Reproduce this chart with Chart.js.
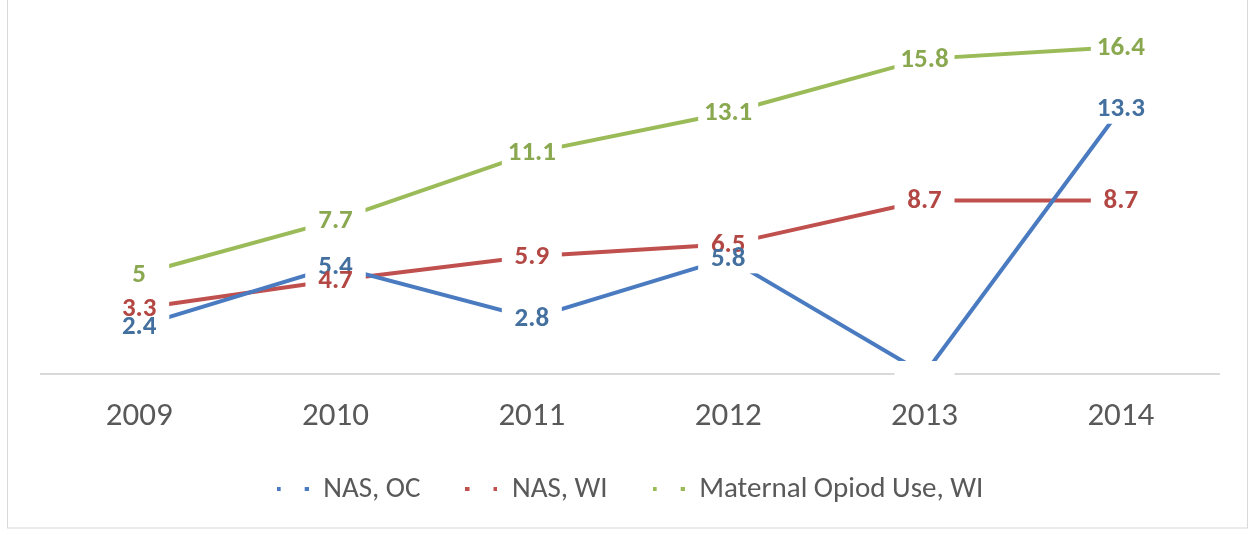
<!DOCTYPE html>
<html>
<head>
<meta charset="utf-8">
<script src="https://cdn.jsdelivr.net/npm/chart.js@4/dist/chart.umd.min.js"></script>
<style>
  body { margin: 0; background: #fff; }
  #wrap { width: 1254px; height: 539px; }
</style>
</head>
<body>
<div id="wrap"><canvas id="nasChart" width="1254" height="539"></canvas></div>
<script>
// rates per year
const years = ['2009', '2010', '2011', '2012', '2013', '2014'];
const nasOC = [2.4, 5.4, 2.8, 5.8, 0, 13.3];
const nasWI = [3.3, 4.7, 5.9, 6.5, 8.7, 8.7];
const maternalWI = [5, 7.7, 11.1, 13.1, 15.8, 16.4];
const seriesNames = ['NAS, OC', 'NAS, WI', 'Maternal Opiod Use, WI'];

const fontStack = 'Carlito, "Open Sans", "Noto Sans", sans-serif';

// legend marker: two little squares like the dotted line swatch
function legendMark(color) {
    var c = document.createElement('canvas');
    c.width = 32;
    c.height = 5;
    var g = c.getContext('2d');
    g.fillStyle = color;
    g.fillRect(0, 0, 4, 4);
    g.fillRect(28, 0, 4, 4);
    return c;
}

function makeSet(label, data, color, textColor) {
    return {
        label: label,
        data: data,
        borderColor: color,
        backgroundColor: color,
        borderWidth: 4,
        tension: 0,
        pointRadius: 0,
        pointHoverRadius: 0,
        pointStyle: legendMark(color),
        labelColor: textColor
    };
}

// value labels sitting on each point with a white box behind
const pointLabels = {
    id: 'pointLabels',
    afterDatasetsDraw(chart) {
        var ctx = chart.ctx;
        ctx.save();
        ctx.font = 'bold 27px ' + fontStack;
        ctx.textAlign = 'center';
        ctx.textBaseline = 'middle';
        for (var i = 0; i < years.length; i++) {
            var items = chart.data.datasets.map(function(ds, d) {
                return { ds: ds, el: chart.getDatasetMeta(d).data[i], v: ds.data[i] };
            });
            items.sort(function(a, b) { return a.el.y - b.el.y; });
            // boxes for the whole column first, then the numbers on top
            items.forEach(function(it) {
                ctx.fillStyle = '#ffffff';
                ctx.fillRect(it.el.x - 30, it.el.y - 13, 60, 28);
            });
            items.forEach(function(it) {
                if (it.v !== 0) {
                    ctx.fillStyle = it.ds.labelColor;
                    ctx.fillText(String(it.v), it.el.x, it.el.y + 1);
                }
            });
        }
        ctx.restore();
    }
};

// thin grey frame around the chart
const frame = {
    id: 'frame',
    afterDraw(chart) {
        var ctx = chart.ctx;
        ctx.save();
        ctx.strokeStyle = '#d9d9d9';
        ctx.lineWidth = 1;
        ctx.strokeRect(7.5, -5, 1240, 533);
        ctx.restore();
    }
};

new Chart(document.getElementById('nasChart'), {
    type: 'line',
    data: {
        labels: years,
        datasets: [
            makeSet(seriesNames[0], nasOC, '#4a7bc0', '#44709f'),
            makeSet(seriesNames[1], nasWI, '#c0504d', '#b34744'),
            makeSet(seriesNames[2], maternalWI, '#9bbb59', '#8aa850')
        ]
    },
    options: {
        responsive: false,
        animation: false,
        events: [],
        layout: { padding: { left: 41, right: 35, top: 15, bottom: 25 } },
        scales: {
            x: {
                offset: true,
                grid: { display: false },
                border: { display: true, color: '#d9d9d9', width: 2 },
                ticks: {
                    color: '#595959',
                    padding: 15,
                    font: { family: fontStack, size: 33 }
                },
                afterFit: function(scale) { scale.height = 56; }
            },
            y: {
                display: false,
                min: 0,
                max: 18
            }
        },
        plugins: {
            legend: {
                position: 'bottom',
                labels: {
                    usePointStyle: true,
                    pointStyleWidth: 32,
                    color: '#595959',
                    padding: 45,
                    font: { family: fontStack, size: 29 }
                }
            },
            tooltip: { enabled: false }
        }
    },
    plugins: [pointLabels, frame]
});
</script>
</body>
</html>
